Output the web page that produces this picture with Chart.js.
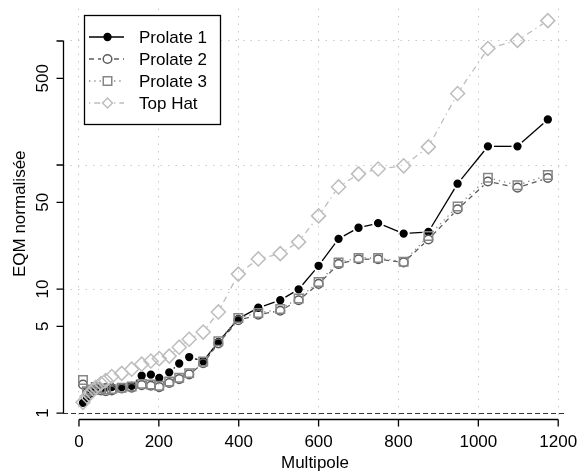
<!DOCTYPE html>
<html>
<head>
<meta charset="utf-8">
<script src="https://cdn.jsdelivr.net/npm/chart.js@4"></script>
<style>
  html, body { margin: 0; padding: 0; background: #fff; }
  #chart { display: block; }
</style>
</head>
<body>
<canvas id="chart" width="578" height="474"></canvas>
<script>
// multipole bins and normalised MSE for each window
var multipole = [10, 20, 30, 42, 55, 67, 82, 107, 132, 157, 180, 201, 226, 251, 276, 311, 349, 399,
  449, 504, 550, 600, 650, 700, 749, 813, 875, 948, 1024, 1098, 1174];
var prolate1 = [1.21, 1.32, 1.44, 1.52, 1.58, 1.61, 1.62, 1.62, 1.66, 2.00, 2.04, 1.92, 2.13, 2.51, 2.83, 2.62, 3.75, 5.75,
  7.07, 8.13, 9.95, 15.4, 25.4, 31.2, 34.0, 28.0, 28.9, 70.7, 141.5, 141.5, 233];
var prolate2 = [1.70, 1.45, 1.50, 1.55, 1.52, 1.50, 1.52, 1.58, 1.60, 1.68, 1.66, 1.62, 1.75, 1.88, 2.05, 2.52, 3.65, 5.60,
  6.22, 6.69, 8.13, 11.0, 15.9, 17.4, 17.4, 16.4, 25.1, 44.0, 73.7, 65.7, 78.7];
var prolate3 = [1.85, 1.50, 1.55, 1.62, 1.58, 1.55, 1.56, 1.60, 1.64, 1.72, 1.70, 1.66, 1.80, 1.93, 2.10, 2.60, 3.80, 5.85,
  6.40, 6.90, 8.40, 11.4, 16.4, 17.8, 17.8, 16.6, 26.8, 46.4, 79.0, 68.7, 83.0];
var topHat = [1.22, 1.36, 1.47, 1.61, 1.73, 1.83, 1.97, 2.09, 2.26, 2.48, 2.63, 2.75, 2.88, 3.40, 3.94, 4.50, 6.54, 13.2,
  17.5, 19.3, 24.0, 38.9, 66.6, 84.8, 92.9, 98.5, 140, 377, 869, 1011, 1459];

var seriesNames = ['Prolate 1', 'Prolate 2', 'Prolate 3', 'Top Hat'];
var xTicks = [0, 200, 400, 600, 800, 1000, 1200];
var yTicks = [1, 5, 10, 50, 100, 500, 1000];
var yTickLabels = ['1', '5', '10', '50', '', '500', ''];
var yGridValues = [10, 100, 1000];

var FONT = '17px "Liberation Sans", Arial, sans-serif';

function pts(ys) {
  return multipole.map(function (x, i) { return { x: x, y: ys[i] }; });
}

// lines drawn like R type="b": segments stop short of the points
var gapLines = {
  id: 'gapLines',
  beforeDatasetsDraw: function (chart) {
    var ctx = chart.ctx;
    ctx.save();
    chart.data.datasets.forEach(function (ds, i) {
      var p = chart.getDatasetMeta(i).data;
      ctx.strokeStyle = ds.borderColor;
      ctx.lineWidth = 1.3;
      ctx.setLineDash(ds.lineDash);
      for (var k = 0; k < p.length - 1; k++) {
        var dx = p[k + 1].x - p[k].x, dy = p[k + 1].y - p[k].y;
        var len = Math.sqrt(dx * dx + dy * dy);
        var gap = ds.gap;
        if (len <= 2 * gap) continue;
        var ux = dx / len, uy = dy / len;
        ctx.lineDashOffset = 0;
        ctx.beginPath();
        ctx.moveTo(p[k].x + ux * gap, p[k].y + uy * gap);
        ctx.lineTo(p[k + 1].x - ux * gap, p[k + 1].y - uy * gap);
        ctx.stroke();
      }
    });
    ctx.restore();
  }
};

// R style axes: line only between first and last tick, rotated y labels
var rAxes = {
  id: 'rAxes',
  beforeDatasetsDraw: function (chart) {
    var ctx = chart.ctx, xs = chart.scales.x, ys = chart.scales.y, area = chart.chartArea;
    ctx.save();
    // reference line at 1
    ctx.strokeStyle = '#333';
    ctx.lineWidth = 1;
    ctx.setLineDash([5, 3]);
    var y1 = Math.round(ys.getPixelForValue(1)) + 0.5;
    ctx.beginPath();
    ctx.moveTo(area.left, y1);
    ctx.lineTo(area.right, y1);
    ctx.stroke();
    ctx.setLineDash([]);

    ctx.strokeStyle = '#000';
    ctx.lineWidth = 1.3;
    ctx.fillStyle = '#000';
    ctx.font = FONT;
    // x axis
    var axY = 419.5;
    ctx.beginPath();
    ctx.moveTo(xs.getPixelForValue(xTicks[0]), axY);
    ctx.lineTo(xs.getPixelForValue(xTicks[xTicks.length - 1]), axY);
    xTicks.forEach(function (v) {
      var px = xs.getPixelForValue(v);
      ctx.moveTo(px, axY);
      ctx.lineTo(px, axY + 7);
    });
    ctx.stroke();
    ctx.textAlign = 'center';
    ctx.textBaseline = 'alphabetic';
    xTicks.forEach(function (v) {
      ctx.fillText(String(v), xs.getPixelForValue(v), 447);
    });
    ctx.fillText('Multipole', (area.left + area.right) / 2, 468);

    // y axis
    var axX = 63.5;
    ctx.beginPath();
    ctx.moveTo(axX, ys.getPixelForValue(yTicks[0]));
    ctx.lineTo(axX, ys.getPixelForValue(yTicks[yTicks.length - 1]));
    yTicks.forEach(function (v) {
      var py = ys.getPixelForValue(v);
      ctx.moveTo(axX, py);
      ctx.lineTo(axX - 7, py);
    });
    ctx.stroke();
    yTicks.forEach(function (v, i) {
      if (!yTickLabels[i]) return;
      ctx.save();
      ctx.translate(48, ys.getPixelForValue(v));
      ctx.rotate(-Math.PI / 2);
      ctx.fillText(yTickLabels[i], 0, 0);
      ctx.restore();
    });
    ctx.save();
    ctx.translate(25, (area.top + area.bottom) / 2);
    ctx.rotate(-Math.PI / 2);
    ctx.fillText('EQM normalisée', 0, 0);
    ctx.restore();
    ctx.restore();
  }
};

function drawMarker(ctx, style, r, x, y) {
  var s = r * Math.SQRT1_2;
  if (style === 'circle') {
    ctx.arc(x, y, r, 0, Math.PI * 2);
  } else if (style === 'rect') {
    ctx.rect(x - s, y - s, 2 * s, 2 * s);
  } else {
    ctx.moveTo(x - s, y); ctx.lineTo(x, y + s); ctx.lineTo(x + s, y); ctx.lineTo(x, y - s); ctx.closePath();
  }
}

var boxLegend = {
  id: 'boxLegend',
  afterDraw: function (chart) {
    var ctx = chart.ctx;
    ctx.save();
    ctx.fillStyle = '#fff';
    ctx.fillRect(84, 15, 137, 110);
    ctx.strokeStyle = '#000';
    ctx.lineWidth = 1.3;
    ctx.strokeRect(84.5, 15.5, 136, 109);
    var rows = [37, 59, 81, 103];
    chart.data.datasets.forEach(function (ds, i) {
      var y = rows[i];
      ctx.strokeStyle = ds.borderColor;
      ctx.lineWidth = 1.3;
      ctx.setLineDash(ds.lineDash);
      ctx.beginPath();
      if (i === 0) {
        ctx.moveTo(89, y); ctx.lineTo(124, y);
      } else {
        ctx.moveTo(89, y); ctx.lineTo(101, y);
        ctx.moveTo(114, y); ctx.lineTo(124, y);
      }
      ctx.stroke();
      ctx.setLineDash([]);
      ctx.fillStyle = ds.pointBackgroundColor;
      ctx.lineWidth = ds.pointBorderWidth;
      ctx.beginPath();
      drawMarker(ctx, ds.pointStyle, ds.pointRadius, 107.5, y);
      ctx.fill();
      ctx.stroke();
      ctx.fillStyle = '#000';
      ctx.font = FONT;
      ctx.textAlign = 'left';
      ctx.textBaseline = 'middle';
      ctx.fillText(ds.label, 139, y + 1);
    });
    ctx.restore();
  }
};

function series(label, ys, color, style, radius, fill, dash, order) {
  return {
    label: label,
    data: pts(ys),
    showLine: false,
    borderColor: color,
    pointStyle: style,
    pointRadius: radius,
    pointHoverRadius: radius,
    pointBorderWidth: 1.5,
    pointBorderColor: color,
    pointBackgroundColor: fill,
    lineDash: dash,
    gap: 6,
    order: order
  };
}

var ctx = document.getElementById('chart');
var myChart = new Chart(ctx, {
  type: 'line',
  data: {
    datasets: [
      series(seriesNames[0], prolate1, '#000000', 'circle', 3.4, '#000000', [], 4),
      series(seriesNames[1], prolate2, '#5c5c5c', 'circle', 4.3, 'rgba(0,0,0,0)', [5, 4], 3),
      series(seriesNames[2], prolate3, '#868686', 'rect', 6, 'rgba(0,0,0,0)', [1.3, 4], 2),
      series(seriesNames[3], topHat, '#bdbdbd', 'rectRot', 7, 'rgba(0,0,0,0)', [1.3, 4, 6, 4], 1)
    ]
  },
  options: {
    responsive: false,
    devicePixelRatio: 1,
    animation: false,
    layout: { padding: { left: 63, top: 2, right: 11, bottom: 55 } },
    plugins: {
      legend: { display: false },
      tooltip: { enabled: false }
    },
    scales: {
      x: {
        type: 'linear',
        min: -40,
        max: 1222,
        afterBuildTicks: function (axis) {
          axis.ticks = xTicks.map(function (v) { return { value: v }; });
        },
        ticks: { display: false },
        border: { display: false, dash: [1.5, 6] },
        grid: { color: '#c8c8c8', lineWidth: 1, drawTicks: false }
      },
      y: {
        type: 'logarithmic',
        min: 0.896,
        max: 1828,
        afterBuildTicks: function (axis) {
          axis.ticks = yTicks.map(function (v) { return { value: v }; });
        },
        ticks: { display: false },
        border: { display: false, dash: [1.5, 6] },
        grid: {
          drawTicks: false,
          lineWidth: 1,
          color: function (c) {
            return c.tick && yGridValues.indexOf(c.tick.value) >= 0 ? '#c8c8c8' : 'rgba(0,0,0,0)';
          }
        }
      }
    }
  },
  plugins: [gapLines, rAxes, boxLegend]
});
</script>
</body>
</html>
